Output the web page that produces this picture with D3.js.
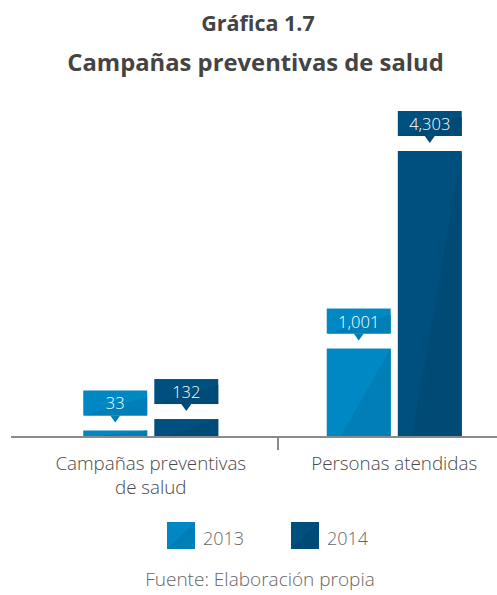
<!DOCTYPE html>
<html><head><meta charset="utf-8">
<script src="https://cdn.jsdelivr.net/npm/d3@7"></script>
<style>body{margin:0;background:#fff}svg{display:block}</style>
</head><body>
<svg id="c" width="497" height="595"></svg>
<script>
const categories = ["Campañas preventivas\nde salud", "Personas atendidas"];
const years = ["2013", "2014"];
const values2013 = [33, 1001];
const values2014 = [132, 4303];
const valueLabels2013 = ["33", "1,001"];
const valueLabels2014 = ["132", "4,303"];

const colors = {"2013": ["#0088c4", "#007fb6"], "2014": ["#00507f", "#004a76"]};
const svg = d3.select("#c");
const baseY = 436, topY = 151;

const data = categories.map((c, i) => ({cat: c, vals: [
  {year: "2013", v: values2013[i], label: valueLabels2013[i]},
  {year: "2014", v: values2014[i], label: valueLabels2014[i]}]}));

const x0 = d3.scaleBand().domain(categories).range([29, 516]);
const x1 = d3.scaleBand().domain(years).range([0, 135]).paddingInner(0.1);
const y = d3.scalePow().exponent(0.81)
  .domain([0, d3.max(values2014.concat(values2013))]).range([baseY, topY]);

// Title
const tfont = "'Open Sans', sans-serif";
svg.append("text").attr("x", 258).attr("y", 31).attr("text-anchor", "middle")
  .attr("font-family", tfont).attr("font-weight", 700).attr("font-size", 21.5).attr("fill", "#444")
  .text("Gráfica 1.7");
svg.append("text").attr("x", 255.5).attr("y", 71).attr("text-anchor", "middle")
  .attr("font-family", tfont).attr("font-weight", 700).attr("font-size", 23.8).attr("fill", "#444")
  .text("Campañas preventivas de salud");

const g = svg.append("g");
data.forEach(d => {
  const gx = x0(d.cat) + x0.bandwidth() / 2 - 67.5;
  d.vals.forEach(b => {
    const bx = gx + x1(b.year), bw = x1.bandwidth(), by = y(b.v), bh = baseY - by;
    const [c1, c2] = colors[b.year];
    g.append("rect").attr("x", bx).attr("y", by).attr("width", bw).attr("height", bh).attr("fill", c1);
    g.append("path").attr("d", `M${bx + bw * 0.22},${baseY}L${bx + bw},${by}L${bx + bw},${baseY}Z`).attr("fill", c2);
    // label box
    const boxB = by - 15, boxT = boxB - 25;
    g.append("rect").attr("x", bx).attr("y", boxT).attr("width", bw).attr("height", 25).attr("fill", c1);
    g.append("path").attr("d", `M${bx},${boxB}L${bx + bw},${boxT + 6}L${bx + bw},${boxB}Z`).attr("fill", c2);
    const cx = bx + bw / 2;
    g.append("path").attr("d", `M${cx - 5},${boxB}L${cx + 5},${boxB}L${cx},${boxB + 7}Z`).attr("fill", c2);
    g.append("text").attr("x", cx).attr("y", boxB - 6).attr("text-anchor", "middle")
      .attr("font-family", tfont).attr("font-weight", 300).attr("font-size", 16.5).attr("fill", "#fff")
      .text(b.label);
  });
});

// Axis
svg.append("line").attr("x1", 11).attr("x2", 497).attr("y1", baseY + 1).attr("y2", baseY + 1)
  .attr("stroke", "#8a8a8a").attr("stroke-width", 2);
svg.append("line").attr("x1", 278).attr("x2", 278).attr("y1", baseY).attr("y2", 450)
  .attr("stroke", "#8a8a8a").attr("stroke-width", 2);

categories.forEach(c => {
  c.split("\n").forEach((line, i) => svg.append("text")
    .attr("x", x0(c) + x0.bandwidth() / 2).attr("y", 470 + i * 24)
    .attr("text-anchor", "middle").attr("font-family", tfont).attr("font-weight", 300)
    .attr("font-size", 18.8).attr("fill", "#4a4a4a").text(line));
});

// Legend
const legX = d3.scaleOrdinal().domain(years).range([167, 291]);
years.forEach(yr => {
  const lx = legX(yr), [c1, c2] = colors[yr];
  svg.append("rect").attr("x", lx).attr("y", 522).attr("width", 28).attr("height", 27).attr("fill", c1);
  svg.append("path").attr("d", `M${lx},549L${lx + 28},522L${lx + 28},549Z`).attr("fill", c2);
  svg.append("text").attr("x", lx + 36).attr("y", 545).attr("font-family", tfont).attr("font-weight", 300)
    .attr("font-size", 18).attr("fill", "#666").text(yr);
});

svg.append("text").attr("x", 260).attr("y", 586).attr("text-anchor", "middle")
  .attr("font-family", tfont).attr("font-weight", 300).attr("font-size", 19).attr("fill", "#666")
  .text("Fuente: Elaboración propia");
</script>
</body></html>
